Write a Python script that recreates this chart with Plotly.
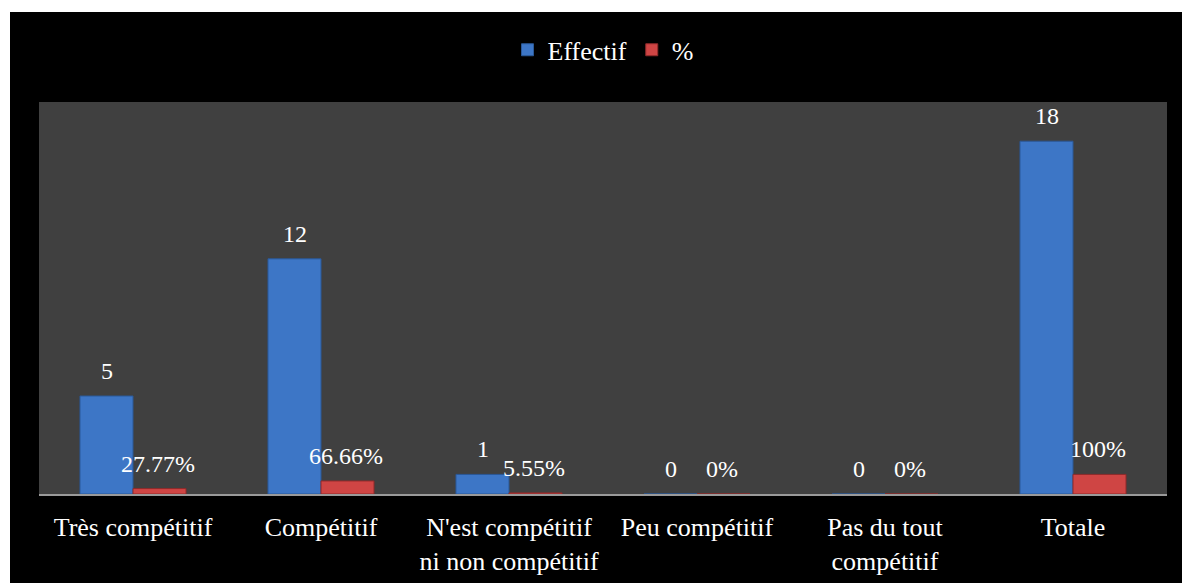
import plotly.graph_objects as go

# Survey results: perceived competitiveness
categories = ["Très compétitif", "Compétitif", "N'est compétitif<br>ni non compétitif",
              "Peu compétitif", "Pas du tout<br>compétitif", "Totale"]
effectif = [5, 12, 1, 0, 0, 18]
pourcent = [0.2777, 0.6666, 0.0555, 0, 0, 1.0]
pourcent_labels = ["27.77%", "66.66%", "5.55%", "0%", "0%", "100%"]

FONT = "Liberation Serif"
BLUE = "#3d76c6"
RED = "#cf4544"
TEXT_SIZE = 26
VALUE_SIZE = 24

fig = go.Figure()
fig.add_trace(go.Bar(name="Effectif", x=categories, y=effectif,
                     marker=dict(color=BLUE, line=dict(color="#2a5897", width=1))))
fig.add_trace(go.Bar(name="%", x=categories, y=pourcent,
                     marker=dict(color=RED, line=dict(color="#8f2a2a", width=1))))

# value labels above each bar
annotations = []
for i, cat in enumerate(categories):
    annotations.append(dict(x=cat, y=effectif[i], xref="x", yref="y", text=str(effectif[i]),
                            showarrow=False, xshift=-26.5, yshift=25, yanchor="middle",
                            font=dict(family=FONT, size=VALUE_SIZE, color="white")))
    annotations.append(dict(x=cat, y=pourcent[i], xref="x", yref="y", text=pourcent_labels[i],
                            showarrow=False, xshift=25, yshift=25, yanchor="middle",
                            font=dict(family=FONT, size=VALUE_SIZE, color="white")))

W, H = 1182, 583
L, R, T, B = 39, 15, 102, 89
pw, ph = W - L - R, H - T - B

shapes = [
    # black frame of the chart, leaving a thin white edge at left and top
    dict(type="rect", xref="paper", yref="paper", layer="below",
         x0=(10 - L) / pw, x1=(W - L + 5) / pw, y0=-(B + 5) / ph, y1=(H - 12 - B) / ph,
         fillcolor="black", line=dict(width=0)),
    # plot area
    dict(type="rect", xref="paper", yref="paper", layer="below",
         x0=0, x1=1, y0=0, y1=1, fillcolor="#404040", line=dict(width=0)),
]

fig.update_layout(
    width=W, height=H,
    margin=dict(l=L, r=R, t=T, b=B, autoexpand=False),
    paper_bgcolor="white",
    plot_bgcolor="#404040",
    barmode="group",
    bargap=0.436,
    bargroupgap=0,
    font=dict(family=FONT, color="white", size=TEXT_SIZE),
    legend=dict(orientation="h", x=0.5, xanchor="center", y=1.133, yanchor="middle",
                font=dict(family=FONT, size=TEXT_SIZE, color="white"),
                bgcolor="rgba(0,0,0,0)", itemwidth=30),
    shapes=shapes,
    annotations=annotations,
    xaxis=dict(showgrid=False, showline=True, linecolor="#9a9a9a", linewidth=2,
               ticks="", tickfont=dict(family=FONT, size=TEXT_SIZE, color="white"),
               ticklabelstandoff=9, automargin=False),
    yaxis=dict(range=[0, 20], showgrid=False, showticklabels=False, zeroline=False,
               showline=False, automargin=False),
)

fig.write_html("out.html")
